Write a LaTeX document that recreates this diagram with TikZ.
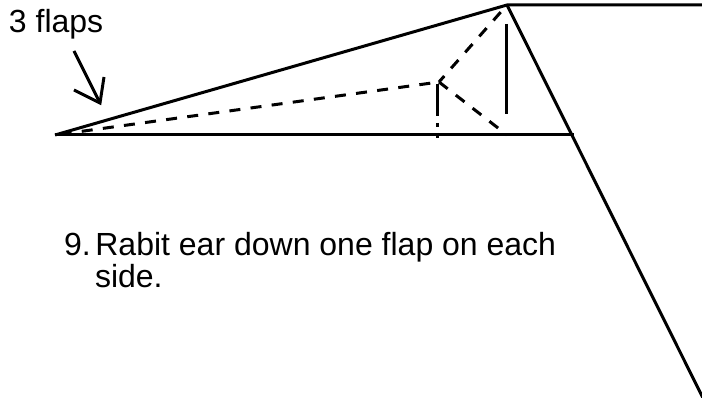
\documentclass[tikz,border=0pt]{standalone}
\usepackage{fontspec}
\setmainfont{Liberation Sans}
\tikzset{
  crease/.style={line width=3pt,line cap=butt},
  foldline/.style={crease,dash pattern=on 11pt off 10.3pt},
  label/.style={inner sep=0pt,outer sep=0pt,anchor=base west,font=\fontsize{32}{36}\selectfont}
}
\begin{document}
\begin{tikzpicture}[x=1pt,y=-1pt]
\useasboundingbox (0,0) rectangle (702,398);
\coordinate (L) at (55,135);
\coordinate (A) at (507,5);
\coordinate (R) at (574,135);
\coordinate (E) at (702,5);
\coordinate (B) at (703,398);
\coordinate (C) at (439,82);
\coordinate (D) at (507,135);
\coordinate (F) at (437,138);
\coordinate (F1) at (437,84);
\coordinate (V1) at (506,24);
\coordinate (V2) at (506,114);
\coordinate (T1) at (74,51);
\coordinate (T2) at (100,103);
\coordinate (H1) at (74,90);
\coordinate (H2) at (104,77);
\draw[crease] (L) -- (A) -- (E);
\draw[crease] (L) -- (R);
\draw[crease] (A) -- (B);
\draw[crease] (V1) -- (V2);
\draw[foldline,dash phase=15.6pt] (L) -- (C);
\draw[foldline,dash phase=3pt] (C) -- (A);
\draw[foldline] (C) -- (D);
\draw[crease,dash pattern=on 32pt off 7pt on 4pt off 6pt on 5pt off 10pt] (F1) -- (F);
\draw[crease] (T1) -- (T2);
\draw[crease] (H1) -- (T2) -- (H2);
\node[label] (t1) at (9,33) {3 flaps};
\node[label] (t2) at (64,256) {9.\kern4.7pt Rabit ear down one flap on each};
\node[label] (t3) at (95,288) {side.};
\end{tikzpicture}
\end{document}
